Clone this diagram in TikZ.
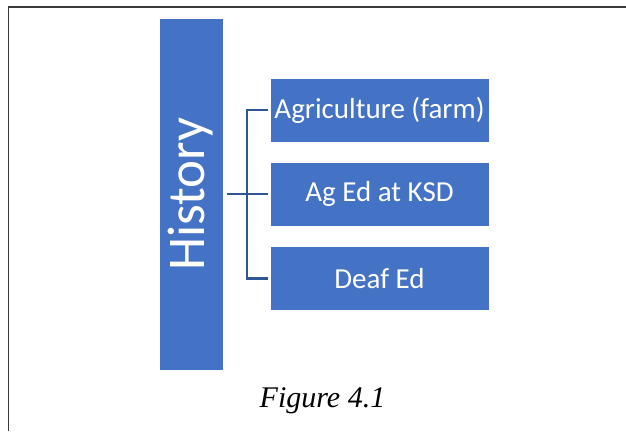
\documentclass[tikz,border=0pt]{standalone}
\usepackage{fontspec}
\setmainfont{Liberation Serif}
\newfontfamily\boxfont{Carlito}
\definecolor{boxblue}{HTML}{4472C4}
\definecolor{linkblue}{HTML}{2F5597}
\definecolor{framegray}{HTML}{3A3A3A}
\tikzset{
  topic/.style={rectangle, fill=boxblue, draw=white, line width=0.4pt, inner sep=0pt,
    text=white, font=\boxfont\fontsize{29}{30}\selectfont},
  leaf/.style={topic, minimum width=219pt, minimum height=64pt},
  link/.style={draw=linkblue, line width=2.4pt},
  frameline/.style={draw=framegray, line width=1.9pt}
}
\begin{document}
\begin{tikzpicture}[x=1pt,y=-1pt]
\useasboundingbox (0,0) rectangle (626,431);
% page frame
\draw[frameline] (626,7) -- (8.5,7) -- (8.5,431);
% root box with rotated title
\node[topic, minimum width=64pt, minimum height=352pt] (hist) at (191,194)
  {\rotatebox{90}{\fontsize{53}{55}\selectfont History}};
% child boxes
\node[leaf] (b1) at (379.5,110) {Agriculture (farm)};
\node[leaf] (b2) at (379.5,194) {Ag Ed at KSD};
\node[leaf] (b3) at (379.5,278.5) {Deaf Ed};
% bracket connectors
\coordinate (bus) at (247,194);
\draw[link, shorten <=4pt, shorten >=2pt] (hist.east) -- (b2.west);
\draw[link, shorten <=2pt, shorten >=2pt] (b1.west) -| (bus) |- (b3.west);
% caption
\node[anchor=base, font=\itshape\fontsize{30}{32}\selectfont] (cap) at (322.5,407) {Figure 4.1};
\end{tikzpicture}
\end{document}
